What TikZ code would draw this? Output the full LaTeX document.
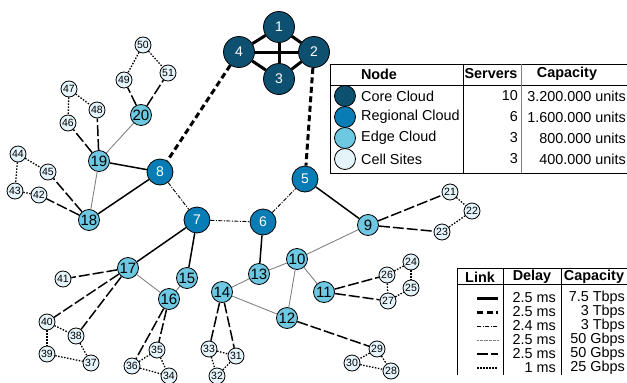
\documentclass[tikz,border=0pt]{standalone}
\usepackage{fontspec}
\setmainfont{Liberation Sans}
\definecolor{corecol}{RGB}{14,80,112}
\definecolor{regcol}{RGB}{8,124,180}
\definecolor{edgecol}{RGB}{110,200,226}
\definecolor{cellcol}{RGB}{228,244,250}
\newcommand{\tabfont}{\fontsize{14.4}{16}\selectfont}
\tikzset{
  site/.style={circle,draw=black,line width=0.8pt,inner sep=0pt},
  corecloud/.style={site,fill=corecol,minimum size=31pt,text=white,font=\fontsize{14}{14}\selectfont},
  regcloud/.style={site,fill=regcol,minimum size=26pt,text=white,font=\fontsize{14}{14}\selectfont},
  edgecloud/.style={site,fill=edgecol,minimum size=21pt,font=\fontsize{15}{15}\selectfont},
  cellsite/.style={site,fill=cellcol,minimum size=16pt,font=\fontsize{10.5}{10.5}\selectfont},
  keydot/.style={minimum size=21pt,font=\tabfont},
  meshlink/.style={line width=3pt},
  backhaul/.style={line width=3pt,dash pattern=on 6pt off 3.5pt},
  ringlink/.style={line width=0.9pt,dash pattern=on 4pt off 1.5pt on 1pt off 1.5pt},
  uplink/.style={line width=1.5pt},
  edgemesh/.style={line width=0.9pt,gray,dash pattern=on 1pt off 0.3pt},
  access/.style={line width=1.5pt,dash pattern=on 11pt off 3pt},
  cellring/.style={line width=1.3pt,dash pattern=on 1.5pt off 1.5pt},
  txt/.style={font=\tabfont,inner sep=0pt}
}
\begin{document}
\begin{tikzpicture}[x=1pt,y=-1pt]
\useasboundingbox (0,0) rectangle (627,383);
% core cloud
\node[corecloud] (n1) at (279,27) {1};
\node[corecloud] (n2) at (314,52) {2};
\node[corecloud] (n3) at (279,79) {3};
\node[corecloud] (n4) at (239,52) {4};
% regional cloud
\node[regcloud] (n5) at (305,179) {5};
\node[regcloud] (n6) at (263,222) {6};
\node[regcloud] (n7) at (197,220) {7};
\node[regcloud] (n8) at (160,172) {8};
% edge cloud
\foreach \i/\x/\y in {9/368/225,10/297/259,11/324/292,12/287/318,13/259/274,
  14/222/292,15/187/278,16/169/299,17/128/268,18/89/220,19/99/161,20/141/115}
  \node[edgecloud] (n\i) at (\x,\y) {\i};
% cell sites
\foreach \i/\x/\y in {21/450/192,22/472/211,23/442/232,24/411/262,25/411/288,
  26/387/275,27/388/301,28/391/371,29/377/349,30/352/363,31/236/356,32/217/376,
  33/209/349,34/169/376,35/157/350,36/132/366,37/91/363,38/76/336,39/47/354,
  40/47/322,41/63/279,42/39/195,43/15/191,44/18/154,45/48/172,46/68/123,
  47/69/89,48/97/110,49/124/80,50/143/45,51/168/73}
  \node[cellsite] (n\i) at (\x,\y) {\i};
% links
\foreach \a/\b in {1/2,2/3,3/4,4/1,1/3,2/4}
  \draw[meshlink] (n\a) -- (n\b);
\draw[backhaul] (n4) -- (n8);
\draw[backhaul] (n2) -- (n5);
\foreach \a/\b in {8/7,7/6,6/5}
  \draw[ringlink] (n\a) -- (n\b);
\foreach \a/\b in {8/19,8/18,7/17,7/15,6/13,5/9}
  \draw[uplink] (n\a) -- (n\b);
\foreach \a/\b in {19/20,19/18,17/16,16/15,13/10,13/14,14/12,10/12,10/11,10/9}
  \draw[edgemesh] (n\a) -- (n\b);
\foreach \a/\b in {20/49,20/51,19/46,19/48,18/45,18/42,17/41,17/40,17/38,16/36,
  16/35,14/33,14/31,12/29,11/26,11/27,9/21,9/23}
  \draw[access] (n\a) -- (n\b);
\foreach \a/\b in {50/49,50/51,47/46,47/48,44/45,44/43,43/42,40/39,40/38,39/37,
  38/37,36/35,36/34,35/34,33/31,33/32,32/31,29/30,29/28,30/28,26/24,24/25,
  26/27,27/25,21/22,22/23}
  \draw[cellring] (n\a) -- (n\b);
% node table
\draw[line width=0.8pt] (330,64) rectangle (629,173);
\draw[line width=0.8pt] (330,85) -- (629,85);
\draw[line width=0.8pt] (463,64) -- (463,173);
\draw[line width=0.8pt,gray] (521,64) -- (521,173);
\node[txt,font=\tabfont\bfseries] (hnode) at (379,74) {Node};
\node[txt,font=\tabfont\bfseries] (hsrv) at (491,74) {Servers};
\node[txt,font=\tabfont\bfseries] (hcap) at (567,74) {Capacity};
\node[site,fill=corecol,keydot] (kcore) at (345,96) {};
\node[site,fill=regcol,keydot] (kreg) at (345,117) {};
\node[site,fill=edgecol,keydot] (kedge) at (345,138) {};
\node[site,fill=cellcol,keydot] (kcell) at (345,159) {};
\node[txt,anchor=west] (tcore) at (361,96) {Core Cloud};
\node[txt,anchor=west] (treg) at (361,117) {Regional Cloud};
\node[txt,anchor=west] (tedge) at (361,138) {Edge Cloud};
\node[txt,anchor=west] (tcell) at (361,159) {Cell Sites};
\node[txt,anchor=east] (score) at (518,96) {10};
\node[txt,anchor=east] (sreg) at (518,117) {6};
\node[txt,anchor=east] (sedge) at (518,138) {3};
\node[txt,anchor=east] (scell) at (518,159) {3};
\node[txt,anchor=east] (ccore) at (626,96) {3.200.000 units};
\node[txt,anchor=east] (creg) at (626,117) {1.600.000 units};
\node[txt,anchor=east] (cedge) at (626,138) {800.000 units};
\node[txt,anchor=east] (ccell) at (626,159) {400.000 units};
% link table
\draw[line width=0.8pt] (457,375) -- (457,268) -- (629,268);
\draw[line width=0.8pt] (457,284) -- (629,284);
\draw[line width=0.8pt] (503,268) -- (503,375);
\draw[line width=0.8pt] (561,268) -- (561,375);
\node[txt,font=\tabfont\bfseries] (hlink) at (480,277) {Link};
\node[txt,font=\tabfont\bfseries] (hdelay) at (532,277) {Delay};
\node[txt,font=\tabfont\bfseries] (hlcap) at (594,277) {Capacity};
\foreach \y/\s/\d/\c in {298/meshlink/2.5 ms/7.5 Tbps,312/backhaul/2.5 ms/3 Tbps,
  326/ringlink/2.4 ms/3 Tbps,340/edgemesh/2.5 ms/50 Gbps,
  354/access/2.5 ms/50 Gbps,368/cellring/1 ms/25 Gbps}{
  \draw[\s] (477,\y) -- (498,\y);
  \node[txt,anchor=east] at (556,\y) {\d};
  \node[txt,anchor=east] at (625,\y) {\c};
}
\end{tikzpicture}
\end{document}
